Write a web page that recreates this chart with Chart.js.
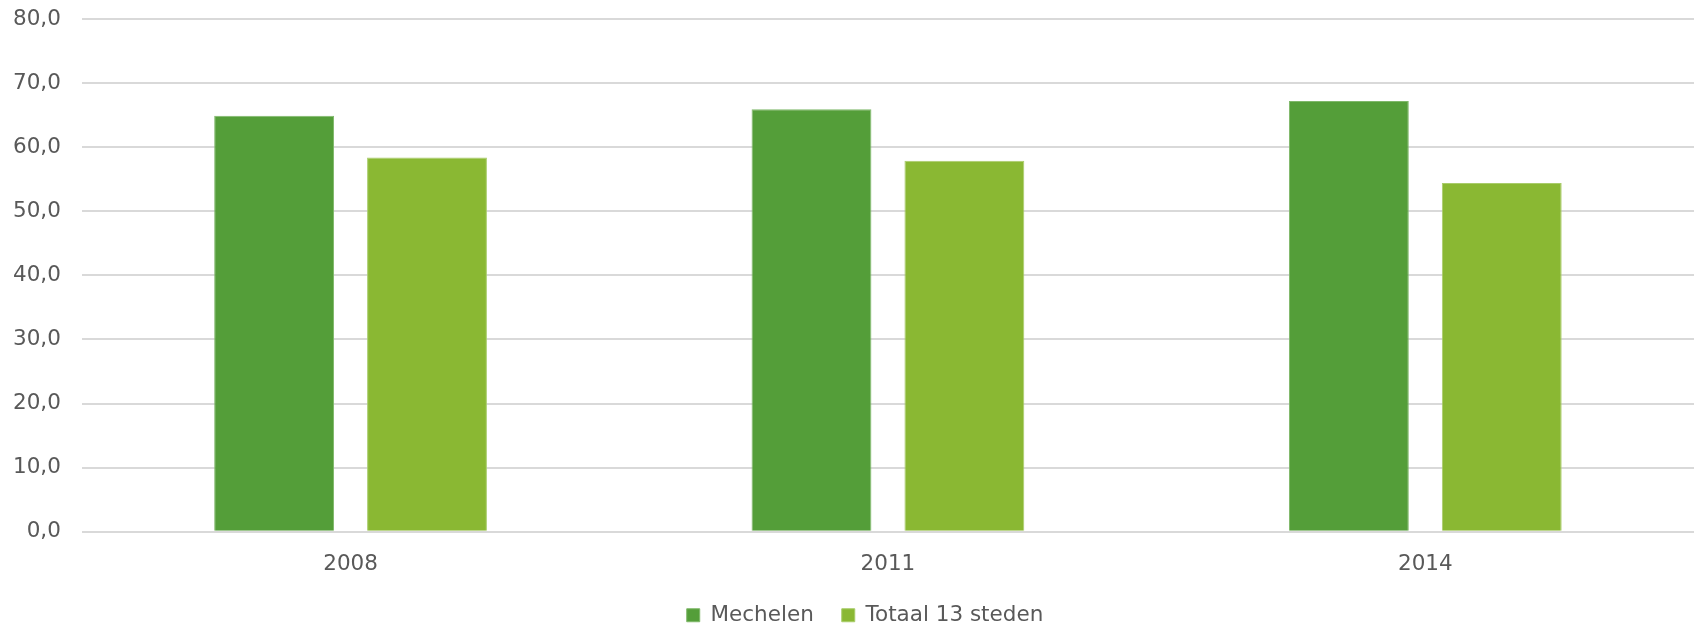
<!DOCTYPE html>
<html>
<head>
<meta charset="utf-8">
<script src="https://cdn.jsdelivr.net/npm/chart.js@4"></script>
<style>
  html, body { margin: 0; padding: 0; background: #fff; }
  #wrap { width: 1697px; height: 624px; }
</style>
</head>
<body>
<div id="wrap"><canvas id="chart" width="1697" height="624"></canvas></div>
<script>
const years     = ['2008', '2011', '2014'];
const mechelen  = [64.9, 65.9, 67.2];
const totaal13  = [58.4, 57.9, 54.4];
const yTicks    = [0, 10, 20, 30, 40, 50, 60, 70, 80];

const fmt = v => v.toFixed(1).replace('.', ',');
const txt = '#595959';
const font = { family: 'DejaVu Sans', size: 21.5 };

// legenda iets naar rechts, zoals in het origineel
const legendShift = {
  id: 'legendShift',
  afterLayout(chart) {
    chart.legend.left += 22;
    chart.legend.right += 22;
  }
};

new Chart(document.getElementById('chart'), {
  type: 'bar',
  data: {
    labels: years,
    datasets: [
      { label: 'Mechelen', data: mechelen, backgroundColor: '#549E39', borderColor: '#7fb86a', borderWidth: 1 },
      { label: 'Totaal 13 steden', data: totaal13, backgroundColor: '#8AB833', borderColor: '#a9cc6a', borderWidth: 1 }
    ]
  },
  options: {
    responsive: false,
    animation: false,
    categoryPercentage: 0.569,
    barPercentage: 0.784,
    layout: { padding: { top: 0, right: 3, left: -8, bottom: -12 } },
    plugins: {
      legend: {
        position: 'bottom',
        labels: { boxWidth: 13, boxHeight: 13, padding: 28, color: txt, font: font }
      },
      tooltip: { enabled: false }
    },
    scales: {
      x: {
        grid: { display: false },
        border: { display: false },
        ticks: { color: txt, font: font, padding: 12 },
        afterFit: ax => { ax.height -= 13; }
      },
      y: {
        min: 0, max: 80,
        afterBuildTicks: ax => { ax.ticks = yTicks.map(v => ({ value: v })); },
        afterFit: ax => { ax.paddingTop = 19; },
        grid: { color: '#d9d9d9', lineWidth: 2, drawTicks: false },
        border: { display: false },
        ticks: { color: txt, font: font, padding: 21, callback: v => fmt(v) }
      }
    }
  },
  plugins: [legendShift]
});
</script>
</body>
</html>
